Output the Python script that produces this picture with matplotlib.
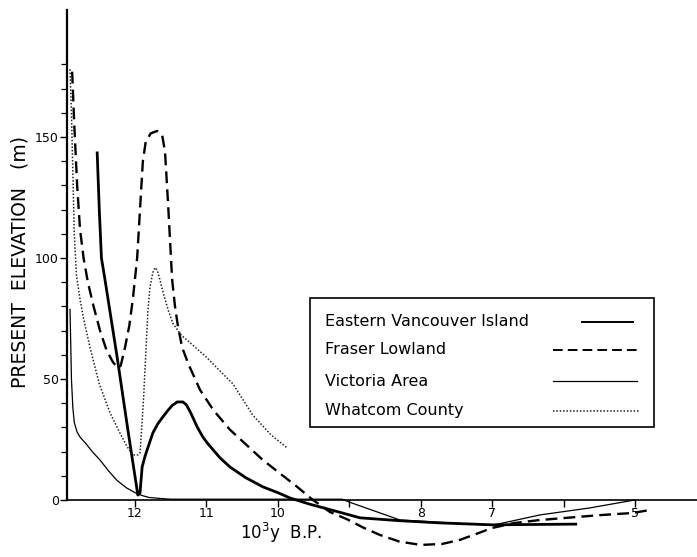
import matplotlib
matplotlib.use('Agg')
import matplotlib.pyplot as plt
from matplotlib.lines import Line2D
from matplotlib.patches import Rectangle

# Values: age in 10^3 y B.P., present elevation in m
evi_age = [12.53, 12.50, 12.47, 12.42, 12.25, 12.10, 11.96, 11.93, 11.90, 11.86,
           11.83, 11.75, 11.68, 11.61, 11.54, 11.48, 11.41, 11.33, 11.28, 11.22,
           11.13, 11.05, 10.99, 10.81, 10.67, 10.45, 10.21, 10.00, 9.83, 9.55,
           9.27, 8.85, 8.29, 7.73, 7.00, 5.81]
evi_elev = [144, 120, 100, 91, 59, 29, 2, 2.9, 13.6, 18,
            20.7, 27.7, 31.5, 34.3, 37, 39, 40.5, 40.5, 39.3, 36,
            30.2, 26, 23.6, 17.4, 13.6, 9.2, 5.4, 3, 0.8, -1.8,
            -4, -7.4, -8.6, -9.5, -10.3, -10]

fraser_age = [12.88, 12.85, 12.81, 12.77, 12.72, 12.66, 12.58, 12.49, 12.40, 12.31,
              12.24, 12.20, 12.14, 12.08, 12.03, 11.97, 11.93, 11.89, 11.85, 11.78,
              11.69, 11.62, 11.58, 11.54, 11.48, 11.44, 11.40, 11.34, 11.25, 11.09,
              10.90, 10.67, 10.21, 9.73, 9.51, 9.27, 9.03, 8.80, 8.57, 8.30,
              8.00, 7.70, 7.45, 7.20, 7.00, 6.70, 6.33, 5.50, 5.03, 4.76]
fraser_elev = [177, 155, 130, 112, 100, 90, 80, 70, 62, 57,
               54.5, 55.5, 63, 72, 83, 100, 120, 140, 148, 151.5,
               152.5, 150.8, 144, 124, 91, 80, 72, 63, 56, 45.5,
               37, 29, 16.5, 5.4, 0, -5, -8, -11.5, -14.5, -17.2,
               -18.6, -18.2, -16.5, -13.8, -11.6, -9.6, -8.3, -6.3, -5.4, -4]

victoria_age = [12.91, 12.90, 12.89, 12.87, 12.85, 12.81, 12.77, 12.68, 12.60, 12.49,
                12.37, 12.25, 12.12, 12.00, 11.90, 11.80, 11.60, 11.50, 9.10, 8.99,
                8.29, 7.00, 6.33, 5.63, 5.00]
victoria_elev = [79, 65, 50, 38, 32, 28, 26, 23, 20, 16.5,
                 12, 8, 5, 3, 1.8, 1, 0.5, 0.3, 0.3, -1,
                 -8.3, -10.5, -6.2, -3.3, 0]

whatcom_age = [12.91, 12.89, 12.87, 12.85, 12.82, 12.77, 12.72, 12.63, 12.50, 12.35,
               12.20, 12.11, 12.03, 11.96, 11.93, 11.91, 11.88, 11.85, 11.82, 11.79,
               11.75, 11.72, 11.69, 11.66, 11.60, 11.53, 11.47, 11.35, 11.23, 11.00,
               10.80, 10.63, 10.35, 10.10, 9.87]
whatcom_elev = [178, 160, 135, 110, 93, 83, 75, 63, 48, 36,
                27, 22, 18.6, 18.6, 19.4, 28, 42, 60, 78, 88,
                94, 96, 95, 92, 85, 78, 73, 68, 65, 59,
                53, 48, 35, 27, 21.5]

series_names = ['Eastern Vancouver Island', 'Fraser Lowland',
                'Victoria Area', 'Whatcom County']

x_ticks = [12, 11, 10, 9, 8, 7, 6, 5]
x_tick_labels = ['12', '11', '10', '', '8', '7', '', '5']
y_ticks = [0, 50, 100, 150]
y_minor_ticks = list(range(0, 190, 10))

W, H = 697, 557


def fx(px):
    return px / W


def fy(py):
    return 1 - py / H


# line styles per series
styles = [
    dict(color='black', lw=2.0, ls='-'),
    dict(color='black', lw=1.7, ls=(0, (5, 2.6))),
    dict(color='black', lw=0.9, ls='-'),
    dict(color='#222222', lw=1.1, ls=(0, (1, 1.2))),
]

fig = plt.figure(figsize=(W / 100, H / 100), dpi=100)
ax = fig.add_axes([fx(67), fy(550), 630 / W, 540 / H])

data = [(evi_age, evi_elev), (fraser_age, fraser_elev),
        (victoria_age, victoria_elev), (whatcom_age, whatcom_elev)]
for (age, elev), st in zip(data, styles):
    ax.plot(age, elev, color=st['color'], lw=st['lw'], ls=st['ls'],
            solid_capstyle='butt', solid_joinstyle='round')

ax.set_xlim(12.952, 4.132)
ax.set_ylim(-20.7, 202.5)

ax.spines['top'].set_visible(False)
ax.spines['right'].set_visible(False)
ax.spines['left'].set_bounds(0, 202.5)
ax.spines['left'].set_linewidth(1.6)
ax.spines['bottom'].set_position(('data', 0))
ax.spines['bottom'].set_linewidth(1.2)

ax.set_xticks(x_ticks)
ax.set_xticklabels(x_tick_labels)
ax.set_yticks(y_ticks)
ax.set_yticks(y_minor_ticks, minor=True)
ax.tick_params(axis='x', direction='out', length=5, width=1, pad=0, labelsize=9)
ax.tick_params(axis='y', which='major', direction='out', length=5, width=1,
               pad=1, labelsize=9)
ax.tick_params(axis='y', which='minor', direction='out', length=4, width=0.9)

fig.text(fx(20), fy(262), 'PRESENT  ELEVATION   (m)', rotation=90,
         ha='center', va='center', fontsize=13.5)
fig.text(fx(281), fy(533), r'10$^3$y  B.P.', ha='center', va='center',
         fontsize=12)

# legend drawn by hand: text on the left, line sample on the right
fig.add_artist(Rectangle((fx(310), fy(427)), (654 - 310) / W, (427 - 298) / H,
                         transform=fig.transFigure, fill=False,
                         edgecolor='black', lw=1.2))
row_y = [322, 350, 381, 411]
sample_x = [(582, 633), (553, 640), (553, 637), (553, 640)]
for name, st, ry, (x0, x1) in zip(series_names, styles, row_y, sample_x):
    fig.text(fx(325), fy(ry), name, ha='left', va='center', fontsize=11.5)
    fig.add_artist(Line2D([fx(x0), fx(x1)], [fy(ry), fy(ry)],
                          transform=fig.transFigure, color=st['color'],
                          lw=min(st['lw'], 1.4), ls=st['ls']))

fig.savefig('out.png', dpi=100, facecolor='white')
